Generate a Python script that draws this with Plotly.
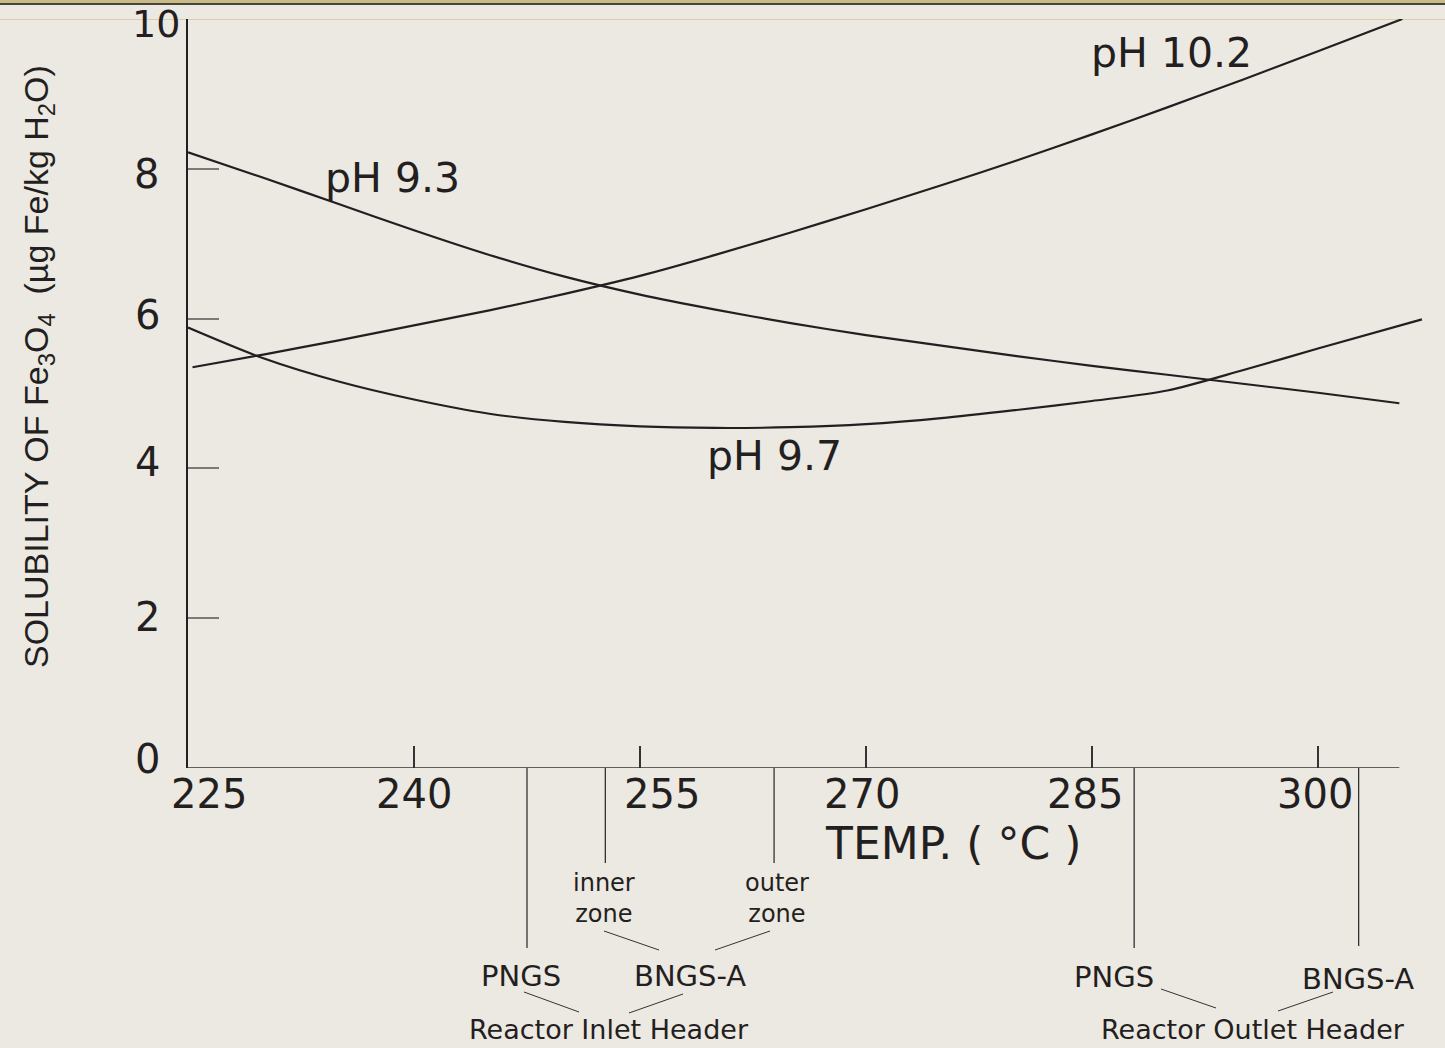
import plotly.graph_objects as go

# ---------------- data ----------------
temp_ph102 = [225.3, 230, 235, 240, 245, 250, 255, 260, 265, 270, 275, 280, 285, 290, 295, 300, 305.6]
sol_ph102 = [5.35, 5.52, 5.71, 5.91, 6.11, 6.33, 6.57, 6.85, 7.15, 7.46, 7.78, 8.11, 8.46, 8.82, 9.19, 9.57, 10.0]

temp_ph93 = [225, 230, 235, 240, 245, 250, 255, 260, 265, 270, 275, 280, 285, 290, 295, 300, 305.4]
sol_ph93 = [8.22, 7.88, 7.53, 7.18, 6.85, 6.56, 6.32, 6.12, 5.94, 5.78, 5.64, 5.50, 5.37, 5.25, 5.13, 5.01, 4.87]

temp_ph97 = [225, 230, 235, 240, 245, 250, 255, 260, 265, 270, 275, 280, 285, 290, 295, 300, 306.9]
sol_ph97 = [5.88, 5.47, 5.16, 4.92, 4.73, 4.62, 4.56, 4.54, 4.55, 4.59, 4.67, 4.78, 4.90, 5.04, 5.31, 5.60, 5.99]

series_names = ["pH 10.2", "pH 9.3", "pH 9.7"]

x_ticks = [225, 240, 255, 270, 285, 300]
x_tick_text = ["225", "240", "255", "270", "285", "300"]
y_ticks = [0, 2, 4, 6, 8, 10]
y_tick_text = ["0", "2", "4", "6", "8", "10"]

header_names = ["PNGS inlet", "BNGS-A inner zone", "BNGS-A outer zone", "PNGS outlet", "BNGS-A outlet"]
header_temps = [247.5, 252.7, 263.9, 287.8, 302.7]

# ---------------- layout / styling ----------------
W, H = 1445, 1048
ML, MR, MT, MB = 188, 19, 19, 280
PL, PR, PT, PB = ML, W - MR, MT, H - MB
X_RANGE = [225, 307.17]
X_AXIS_END = 305.4

BG = "#ECE8E2"
INK = "#231F20"
FONT = "DejaVu Sans"


def pxx(p):
    return (p - PL) / (PR - PL)


def pxy(p):
    return (PB - p) / (PB - PT)


fig = go.Figure()
for t, s, n in [(temp_ph102, sol_ph102, series_names[0]),
                (temp_ph93, sol_ph93, series_names[1]),
                (temp_ph97, sol_ph97, series_names[2])]:
    fig.add_trace(go.Scatter(x=t, y=s, name=n, mode="lines",
                             line=dict(color=INK, width=2.2, shape="spline", smoothing=0.8),
                             hoverinfo="x+y+name"))

shapes = []
# x axis line (stops short of the right edge as in the reference)
shapes.append(dict(type="line", xref="x", yref="y", x0=X_RANGE[0], x1=X_AXIS_END, y0=0, y1=0,
                   line=dict(color="#333333", width=1.6), layer="above"))
# header marker lines below the axis
header_bottom_px = [948, 863, 863, 948, 946]
for t, b in zip(header_temps, header_bottom_px):
    shapes.append(dict(type="line", xref="x", yref="paper", x0=t, x1=t, y0=0, y1=pxy(b),
                       line=dict(color="#333333", width=1.3)))
# leader lines between labels
leaders = [((604, 931), (659, 950)), ((770, 931), (715, 950)),
           ((524, 992), (579, 1012)), ((683, 994), (629, 1013)),
           ((1161, 989), (1216, 1008)), ((1333, 992), (1278, 1011))]
for (a, b) in leaders:
    shapes.append(dict(type="line", xref="paper", yref="paper", x0=pxx(a[0]), y0=pxy(a[1]),
                       x1=pxx(b[0]), y1=pxy(b[1]), line=dict(color="#333333", width=1)))
# slide decoration at top
shapes.append(dict(type="rect", xref="paper", yref="paper", x0=pxx(0), x1=pxx(W), y0=pxy(0), y1=pxy(3.2),
                   line=dict(width=0), fillcolor="#C9B983", layer="below"))
shapes.append(dict(type="line", xref="paper", yref="paper", x0=pxx(0), x1=pxx(W), y0=pxy(4), y1=pxy(4),
                   line=dict(color="#111111", width=1.6), layer="below"))
shapes.append(dict(type="line", xref="paper", yref="paper", x0=pxx(0), x1=pxx(W), y0=pxy(19.5), y1=pxy(19.5),
                   line=dict(color="#DCCFA6", width=1.2), layer="below"))

annotations = []
# x tick labels (shifted individually as in the reference)
x_label_shift = [21, 0, 22, -4, -7, -3]
for v, txt, sh in zip(x_ticks, x_tick_text, x_label_shift):
    annotations.append(dict(x=v, xref="x", y=pxy(794), yref="paper", text=txt, showarrow=False,
                            xanchor="center", yanchor="middle", xshift=sh,
                            font=dict(family=FONT, size=40, color=INK)))
# y tick labels
y_label_xpx = [147, 147, 147, 147, 146, 156]
y_label_shift = [9, 1, 6, 4, -5, 0]
y_label_anchor = ["middle", "middle", "middle", "middle", "middle", "top"]
for v, txt, xp, sh, ya in zip(y_ticks, y_tick_text, y_label_xpx, y_label_shift, y_label_anchor):
    if ya == "top":
        annotations.append(dict(x=pxx(xp), xref="paper", y=pxy(0.5), yref="paper", text=txt,
                                showarrow=False, xanchor="center", yanchor="top",
                                font=dict(family=FONT, size=38, color=INK)))
    else:
        annotations.append(dict(x=pxx(xp), xref="paper", y=v, yref="y", text=txt, showarrow=False,
                                xanchor="center", yanchor="middle", yshift=sh,
                                font=dict(family=FONT, size=40, color=INK)))
# curve labels
curve_label_pos = [(290.3, 9.55), (238.6, 7.88), (263.96, 4.16)]
for n, (x, y) in zip(series_names, curve_label_pos):
    annotations.append(dict(x=x, y=y, xref="x", yref="y", text=n, showarrow=False,
                            xanchor="center", yanchor="middle",
                            font=dict(family=FONT, size=41, color=INK)))
# axis titles
annotations.append(dict(x=pxx(953), y=pxy(843), xref="paper", yref="paper", text="TEMP. ( °C )",
                        showarrow=False, xanchor="center", yanchor="middle",
                        font=dict(family=FONT, size=44, color=INK)))
annotations.append(dict(x=pxx(38), y=pxy(367), xref="paper", yref="paper",
                        text="SOLUBILITY OF Fe<sub>3</sub>O<sub>4</sub>  (µg Fe/kg H<sub>2</sub>O)",
                        textangle=-90, showarrow=False, xanchor="center", yanchor="middle",
                        font=dict(family="Liberation Sans", size=34, color=INK)))
# header labels
small = dict(family=FONT, size=24, color=INK)
mid = dict(family=FONT, size=29, color=INK)
big = dict(family=FONT, size=27, color=INK)
text_items = [
    ("inner<br>zone", 604, 899, small, "middle"),
    ("outer<br>zone", 777, 899, small, "middle"),
    ("PNGS", 521, 976, mid, "middle"), ("BNGS-A", 690, 976, mid, "middle"),
    ("PNGS", 1114, 977, mid, "middle"), ("BNGS-A", 1358, 979, mid, "middle"),
    ("Reactor Inlet Header", 609, 1047, big, "bottom"),
    ("Reactor Outlet Header", 1253, 1047, big, "bottom"),
]
for txt, xp, yp, f, ya in text_items:
    annotations.append(dict(x=pxx(xp), y=pxy(yp), xref="paper", yref="paper", text=txt, showarrow=False,
                            xanchor="center", yanchor=ya, font=f))

fig.update_layout(
    width=W, height=H,
    margin=dict(l=ML, r=MR, t=MT, b=MB, pad=0),
    paper_bgcolor=BG, plot_bgcolor=BG,
    showlegend=False,
    shapes=shapes, annotations=annotations,
    xaxis=dict(range=X_RANGE, showline=False, showgrid=False, zeroline=False,
               tickmode="array", tickvals=x_ticks[1:], ticks="inside", ticklen=22, tickwidth=1.5,
               tickcolor="#333333", showticklabels=False, fixedrange=True),
    yaxis=dict(range=[0, 10], showline=True, linecolor=INK, linewidth=2, showgrid=False, zeroline=False,
               tickmode="array", tickvals=y_ticks, ticks="inside", ticklen=31,
               tickwidth=2, tickcolor="#7A7A7A", showticklabels=False, fixedrange=True),
)

fig.write_html("out.html", config={"displayModeBar": False},
               post_script="document.body.style.margin='0';document.body.style.overflow='hidden';")
